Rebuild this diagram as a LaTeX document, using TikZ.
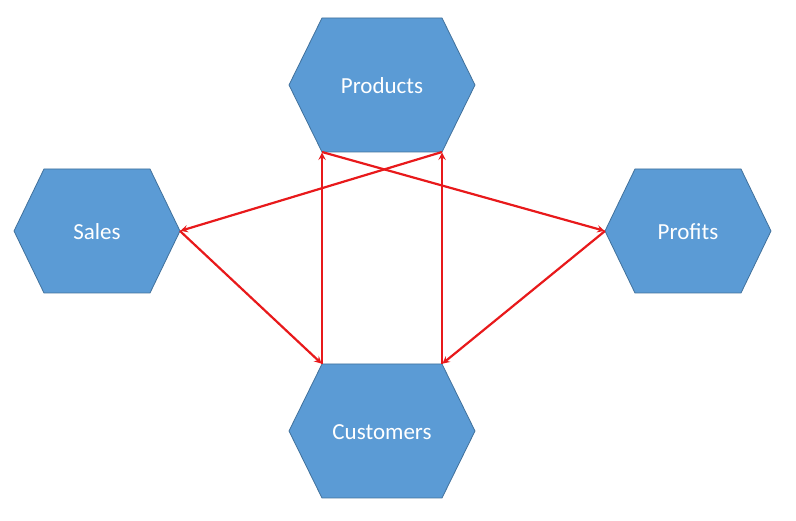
\documentclass[tikz,border=0pt]{standalone}
\usepackage{fontspec}
\setmainfont{Carlito}
\definecolor{hexfill}{HTML}{5B9BD5}
\definecolor{hexline}{HTML}{41719C}
\definecolor{linkred}{HTML}{E8191B}
% #1 name, #2 x, #3 y, #4 half width, #5 half height, #6 inset, #7 text
\newcommand{\hexbox}[7]{%
\coordinate (#1-l) at ({#2-#4},#3);
\coordinate (#1-r) at ({#2+#4},#3);
\coordinate (#1-tl) at ({#2-#4+#6},{#3-#5});
\coordinate (#1-tr) at ({#2+#4-#6},{#3-#5});
\coordinate (#1-bl) at ({#2-#4+#6},{#3+#5});
\coordinate (#1-br) at ({#2+#4-#6},{#3+#5});
\draw[hex] (#1-l)--(#1-tl)--(#1-tr)--(#1-r)--(#1-br)--(#1-bl)--cycle;
\node (#1) at (#2,{#3+1})[label text] {#7};
}
\begin{document}
\begin{tikzpicture}[x=1pt,y=-1pt,>=stealth,
hex/.style = {draw = hexline, fill = hexfill, line width = 0.8pt},
label text/.style = {text = white, font = \fontsize{23}{27}\selectfont},
link/.style = {->, draw = linkred, line width = 2.2pt, shorten >=0.5pt},]
\useasboundingbox (0,0) rectangle (796,521);
\hexbox{P}{382}{85}{93}{67}{33}{Products}
\hexbox{S}{97}{231}{83}{62}{30}{Sales}
\hexbox{F}{688}{231}{83}{62}{30}{Profits}
\hexbox{C}{382}{431}{93}{67}{33}{Customers}
\draw[link] (P-br)--(S-r);
\draw[link] (P-bl)--(F-l);
\draw[link] (S-r)--(C-tl);
\draw[link] (F-l)--(C-tr);
\draw[link] (C-tl)--(P-bl);
\draw[link] (C-tr)--(P-br);
\end{tikzpicture}
\end{document}
